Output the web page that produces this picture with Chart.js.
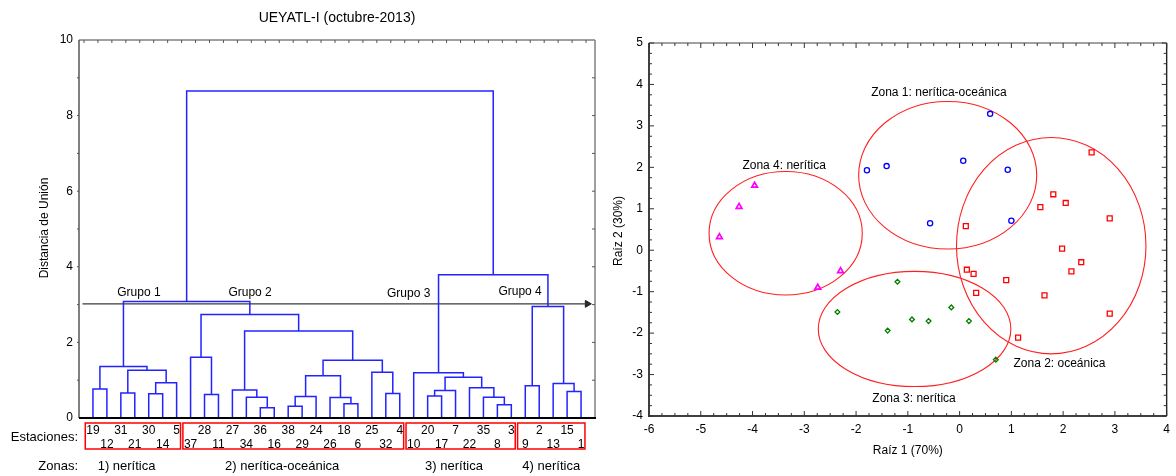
<!DOCTYPE html>
<html><head><meta charset="utf-8">
<script src="https://cdn.jsdelivr.net/npm/chart.js@4.4.0/dist/chart.umd.min.js"></script>
<style>
html,body{margin:0;padding:0;background:#fff;}
#wrap{position:relative;width:1176px;height:476px;overflow:hidden;}
#c1{position:absolute;left:0;top:0;}
#c2{position:absolute;left:600px;top:0;}
</style></head><body>
<div id="wrap"><canvas id="c1" width="600" height="476"></canvas><canvas id="c2" width="576" height="476"></canvas></div>
<script>
// ================= DATA =================
// Dendrogram: leaf order (stations), merges (node ids: 0..35 leaves, 36+k merge k)
const leafLabels = [19,12,31,21,30,14,5,37,28,11,27,34,36,16,38,29,24,26,18,6,25,32,4,10,20,17,7,22,35,8,3,9,2,13,15,1];
const mergeLeft   = [0,2,4,38,37,36, 8,7,12,11,10,14,47,18,17,48,21,20,51,46,43,41, 24,58,29,28,27,59,23, 31,34,33,65,64,57];
const mergeRight  = [1,3,5,6,39,40, 9,42,13,44,45,15,16,19,49,50,22,52,53,54,55,56, 25,26,30,60,61,62,63, 32,35,66,67,68,69];
const mergeHeight = [0.77,0.66,0.64,0.93,1.26,1.36, 0.62,1.61,0.27,0.55,0.74,0.31,0.57,0.38,0.54,1.12,0.65,1.21,1.53,2.30,2.74,3.08, 0.58,0.73,0.35,0.55,0.80,1.08,1.20, 0.85,0.70,0.91,2.95,3.79,8.65];
const cutHeight = 3.02;
const groupNames = ['Grupo 1','Grupo 2','Grupo 3','Grupo 4'];
const groupFirstLeaf = [0,7,23,31];
const groupLastLeaf  = [6,22,30,35];
const zoneNames = ['1) nerítica','2) nerítica-oceánica','3) nerítica','4) nerítica'];
const dendroTicks = [0,2,4,6,8,10];

// Discriminant scatter (Raíz 1, Raíz 2)
const z1x = [-1.79,-1.41,0.59,0.07,0.93,-0.57,1.00];
const z1y = [1.93,2.03,3.29,2.16,1.94,0.65,0.71];
const z2x = [2.55,1.81,2.05,1.56,2.90,0.12,1.98,2.35,2.16,0.14,0.27,0.90,1.64,0.32,2.90,1.13];
const z2y = [2.36,1.35,1.14,1.04,0.77,0.58,0.04,-0.29,-0.51,-0.47,-0.57,-0.72,-1.09,-1.03,-1.53,-2.11];
const z3x = [-2.36,-1.39,-1.20,-0.92,-0.60,-0.16,0.18,0.70];
const z3y = [-1.49,-1.94,-0.76,-1.67,-1.71,-1.38,-1.71,-2.64];
const z4x = [-3.96,-4.26,-4.64,-2.30,-2.74];
const z4y = [1.56,1.05,0.32,-0.50,-0.90];
const zoneTitles = ['Zona 1: nerítica-oceánica','Zona 2: oceánica','Zona 3: nerítica','Zona 4: nerítica'];
const ellipseCX = [-0.23, 1.77, -0.87, -3.36];
const ellipseCY = [1.81, 0.11, -1.90, 0.41];
const ellipseRX = [1.72, 1.83, 1.86, 1.48];
const ellipseRY = [1.78, 2.61, 1.39, 1.49];

// ================= LAYOUT (positions in data units) =================
const groupLabelPos = [[3.3,3.31],[11.27,3.31],[22.64,3.29],[30.63,3.33]];
const zoneLabelX = [2.41,13.57,25.89,32.86];
const zoneTitlePos = [[-0.40,3.79],[1.93,-2.74],[-0.88,-3.58],[-3.39,2.04]];

const FONT = "'Liberation Sans', Arial, Helvetica, sans-serif";
Chart.defaults.font.family = FONT;
Chart.defaults.color = '#000';
Chart.defaults.animation = false;

// ---------- Build dendrogram geometry from linkage ----------
const nodeX = leafLabels.map((_, i) => i);
const nodeY = leafLabels.map(() => 0);
const dendroDatasets = [];
mergeHeight.forEach((h, k) => {
  const a = mergeLeft[k], b = mergeRight[k];
  const xa = nodeX[a], xb = nodeX[b];
  dendroDatasets.push({
    data: [{x: xa, y: nodeY[a]}, {x: xa, y: h}, {x: xb, y: h}, {x: xb, y: nodeY[b]}],
    showLine: true, borderColor: 'rgb(35,35,255)', borderWidth: 1.5, pointRadius: 0, fill: false, tension: 0
  });
  nodeX.push((xa + xb) / 2);
  nodeY.push(h);
});
const cutLine = {data: [{x: -0.75, y: cutHeight}, {x: 35.6, y: cutHeight}], showLine: true,
  borderColor: '#3a3a3a', borderWidth: 1.4, pointRadius: 0};
const cutArrow = {data: [{x: 35.45, y: cutHeight}], pointStyle: 'triangle', rotation: 90,
  pointRadius: 4, backgroundColor: '#222', borderColor: '#222', borderWidth: 1};

function txt(ctx, s, x, y, size, align, rot) {
  ctx.save();
  ctx.font = size + 'px ' + FONT;
  ctx.fillStyle = '#000';
  ctx.textAlign = align || 'center';
  ctx.textBaseline = 'middle';
  ctx.translate(x, y);
  if (rot) ctx.rotate(rot);
  ctx.fillText(s, 0, 0);
  ctx.restore();
}
function line(ctx, x1, y1, x2, y2, col, w) {
  ctx.strokeStyle = col; ctx.lineWidth = w;
  ctx.beginPath(); ctx.moveTo(x1, y1); ctx.lineTo(x2, y2); ctx.stroke();
}
const noGrid = {display: false, drawTicks: false, tickLength: 0};

const dendroDecor = {
  id: 'dendroDecor',
  afterDraw(chart) {
    const {ctx, chartArea: a, scales: {x, y}} = chart;
    ctx.save();
    line(ctx, a.left, a.top, a.right, a.top, '#808080', 1.5);
    line(ctx, a.right, a.top, a.right, a.bottom, '#808080', 1.5);
    line(ctx, a.left, a.top, a.left, a.bottom, '#4a4a4a', 1.4);
    line(ctx, a.left, a.bottom, a.right + 1, a.bottom, '#000', 2);
    for (let v = 1; v < 10; v++) {
      const py = y.getPixelForValue(v);
      line(ctx, a.right, py, a.right - 3, py, '#555', 1);
      line(ctx, a.left, py, a.left - 2, py, '#555', 1);
    }
    for (let k = 0; k <= 36; k++) {
      const px = x.getPixelForValue(k - 0.643);
      line(ctx, px, a.top, px, a.top + 3, '#555', 1);
    }
    ctx.strokeStyle = '#ff0000'; ctx.lineWidth = 1.5;
    groupFirstLeaf.forEach((f, g) => {
      const x1 = x.getPixelForValue(f - 0.55), x2 = x.getPixelForValue(groupLastLeaf[g] + 0.28);
      ctx.strokeRect(x1, a.bottom + 5, x2 - x1, 26);
    });
    groupNames.forEach((s, g) => txt(ctx, s, x.getPixelForValue(groupLabelPos[g][0]), y.getPixelForValue(groupLabelPos[g][1]), 12));
    zoneNames.forEach((s, g) => txt(ctx, s, x.getPixelForValue(zoneLabelX[g]), 466.5, 13));
    txt(ctx, 'Estaciones:', 78, 437.5, 13, 'right');
    txt(ctx, 'Zonas:', 78, 466.5, 13, 'right');
    txt(ctx, 'UEYATL-I (octubre-2013)', 337, 18, 14);
    txt(ctx, 'Distancia de Unión', 45, 228, 12, 'center', -Math.PI / 2);
    ctx.restore();
  }
};

new Chart(document.getElementById('c1'), {
  type: 'scatter',
  data: {datasets: dendroDatasets.concat([cutLine, cutArrow])},
  options: {
    responsive: false, events: [],
    layout: {padding: {left: 0, right: 3, top: 40, bottom: 0}},
    plugins: {legend: {display: false}, tooltip: {enabled: false}},
    scales: {
      x: {type: 'linear', min: -1, max: 36, grid: noGrid, border: {display: false},
        afterBuildTicks: s => { s.ticks = leafLabels.map((_, i) => ({value: i})); },
        ticks: {autoSkip: false, maxRotation: 0, minRotation: 0, padding: 6, color: '#000',
          font: {size: 12, lineHeight: 1.15},
          callback: v => { const i = Math.round(v); const l = String(leafLabels[i]); return i % 2 === 0 ? [l, ''] : ['', l]; }},
        afterFit: s => { s.height = 58; }},
      y: {type: 'linear', min: 0, max: 10, grid: noGrid, border: {display: false},
        afterBuildTicks: s => { s.ticks = dendroTicks.map(v => ({value: v})); },
        ticks: {padding: 6, color: '#000', font: {size: 12}},
        afterFit: s => { s.width = 79; }}
    }
  },
  plugins: [dendroDecor]
});

// ---------- Scatter chart ----------
const pts = (xs, ys) => xs.map((v, i) => ({x: v, y: ys[i]}));
const scatterDecor = {
  id: 'scatterDecor',
  beforeDatasetsDraw(chart) {
    const {ctx, scales: {x, y}} = chart;
    ctx.save();
    ctx.strokeStyle = '#ff2020'; ctx.lineWidth = 1.1;
    ellipseCX.forEach((cx, i) => {
      const px = x.getPixelForValue(cx), py = y.getPixelForValue(ellipseCY[i]);
      const rx = x.getPixelForValue(cx + ellipseRX[i]) - px;
      const ry = py - y.getPixelForValue(ellipseCY[i] + ellipseRY[i]);
      ctx.beginPath(); ctx.ellipse(px, py, rx, ry, 0, 0, Math.PI * 2); ctx.stroke();
    });
    ctx.restore();
  },
  afterDraw(chart) {
    const {ctx, chartArea: a, scales: {x, y}} = chart;
    ctx.save();
    line(ctx, a.left, a.top, a.right, a.top, '#808080', 1.5);
    line(ctx, a.right, a.top, a.right, a.bottom, '#222', 1.4);
    line(ctx, a.left, a.top, a.left, a.bottom + 1, '#000', 1.5);
    line(ctx, a.left, a.bottom, a.right, a.bottom, '#000', 1.6);
    for (let v = -6; v <= 4.001; v += 0.25) {
      const px = x.getPixelForValue(v);
      const len = Math.abs(v - Math.round(v)) < 1e-6 ? 5 : 3;
      line(ctx, px, a.bottom, px, a.bottom - len, '#333', 1);
      line(ctx, px, a.top, px, a.top + len, '#333', 1);
    }
    for (let v = -4; v <= 5.001; v += 0.25) {
      const py = y.getPixelForValue(v);
      const len = Math.abs(v - Math.round(v)) < 1e-6 ? 5 : 3;
      line(ctx, a.left, py, a.left + len, py, '#333', 1);
      line(ctx, a.right, py, a.right - len, py, '#333', 1);
    }
    zoneTitles.forEach((s, i) => txt(ctx, s, x.getPixelForValue(zoneTitlePos[i][0]), y.getPixelForValue(zoneTitlePos[i][1]), 12));
    txt(ctx, 'Raíz 1 (70%)', (a.left + a.right) / 2, 451, 12);
    txt(ctx, 'Raíz 2 (30%)', 19, 231, 12, 'center', -Math.PI / 2);
    ctx.restore();
  }
};

new Chart(document.getElementById('c2'), {
  type: 'scatter',
  data: {datasets: [
    {data: pts(z1x, z1y), pointStyle: 'circle', pointRadius: 2.6, borderColor: '#0000ff', backgroundColor: 'rgba(0,0,0,0)', borderWidth: 1.3},
    {data: pts(z2x, z2y), pointStyle: 'rect', pointRadius: 3.5, borderColor: '#ff0000', backgroundColor: 'rgba(0,0,0,0)', borderWidth: 1.3},
    {data: pts(z3x, z3y), pointStyle: 'rectRot', pointRadius: 2.4, borderColor: '#008000', backgroundColor: 'rgba(0,0,0,0)', borderWidth: 1.3},
    {data: pts(z4x, z4y), pointStyle: 'triangle', pointRadius: 3.3, borderColor: '#ff00ff', backgroundColor: 'rgba(0,0,0,0)', borderWidth: 1.7}
  ]},
  options: {
    responsive: false, events: [],
    layout: {padding: {left: 0, right: 5, top: 43, bottom: 0}},
    plugins: {legend: {display: false}, tooltip: {enabled: false}},
    scales: {
      x: {type: 'linear', min: -6, max: 4, grid: noGrid, border: {display: false},
        ticks: {stepSize: 1, padding: 6, color: '#000', font: {size: 12}, maxRotation: 0},
        afterFit: s => { s.height = 60; }},
      y: {type: 'linear', min: -4, max: 5, grid: noGrid, border: {display: false},
        ticks: {stepSize: 1, padding: 6, color: '#000', font: {size: 12}},
        afterFit: s => { s.width = 49; }}
    }
  },
  plugins: [scatterDecor]
});
</script>
</body></html>
